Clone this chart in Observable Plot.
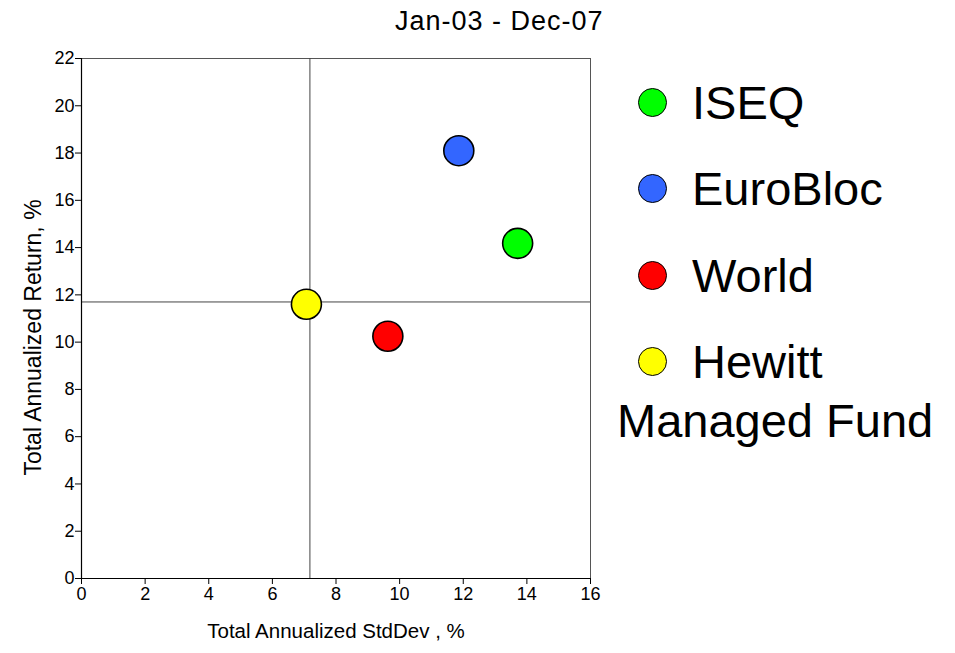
<!DOCTYPE html>
<html>
<head>
<meta charset="utf-8">
<script src="https://cdn.jsdelivr.net/npm/d3@7"></script>
<script src="https://cdn.jsdelivr.net/npm/@observablehq/plot@0.6"></script>
<style>
  html, body { margin: 0; padding: 0; background: white; }
  #wrap { position: relative; width: 955px; height: 653px; font-family: "Liberation Sans", Arial, sans-serif; }
  #title { position: absolute; left: 395px; top: 7px; font-family: "Liberation Sans", Arial, sans-serif; font-size: 27px; line-height: 29px; letter-spacing: 1px; white-space: nowrap; color: #000; }
  #legend { position: absolute; left: 590px; top: 58.75px; width: 365px; }
  .row { height: 86.5px; display: flex; align-items: center; padding-left: 48px; }
  .sw { width: 27px; height: 27px; border-radius: 50%; border: 1.6px solid #000; box-sizing: content-box; flex: none; }
  .lab { font-size: 47px; line-height: 47px; margin-left: 25px; white-space: nowrap; }
  .more { font-size: 47px; line-height: 32px; margin-left: 27px; white-space: nowrap; }
  #chart { position: absolute; left: 0; top: 0; }
</style>
</head>
<body>
<div id="wrap">
  <div id="chart"></div>
  <div id="title"></div>
  <div id="legend"></div>
</div>
<script>
// ---- data ----
const titleText = "Jan-03 - Dec-07";
const xLabel = "Total Annualized StdDev , %";
const yLabel = "Total Annualized Return, %";
const names = ["ISEQ", "EuroBloc", "World", "Hewitt Managed Fund"];
const stdDev = [13.71, 11.86, 9.63, 7.07];
const annReturn = [14.18, 18.1, 10.25, 11.6];
const colors = ["#00ff00", "#3366ff", "#ff0000", "#ffff00"];
const crossX = [7.18];
const crossY = [11.7];
const xDomain = [0, 16];
const yDomain = [0, 22];
const xTicks = [0, 2, 4, 6, 8, 10, 12, 14, 16];
const yTicks = [0, 2, 4, 6, 8, 10, 12, 14, 16, 18, 20, 22];

const points = names.map((n, i) => ({name: n, x: stdDev[i], y: annReturn[i], color: colors[i]}));

document.getElementById("title").textContent = titleText;

const font = "'Liberation Sans', Arial, sans-serif";

const chart = Plot.plot({
  width: 955,
  height: 653,
  marginLeft: 81,
  marginRight: 365,
  marginTop: 58,
  marginBottom: 75,
  style: {fontFamily: font, fontSize: "18px", background: "white", color: "black", overflow: "visible"},
  x: {domain: xDomain, label: null},
  y: {domain: yDomain, label: null},
  marks: [
    Plot.frame({stroke: "#555", strokeWidth: 1}),
    Plot.ruleX(crossX, {stroke: "#444", strokeWidth: 1}),
    Plot.ruleY(crossY, {stroke: "#444", strokeWidth: 1}),
    Plot.ruleX([xDomain[0]], {stroke: "#000", strokeWidth: 1.2}),
    Plot.ruleY([yDomain[0]], {stroke: "#000", strokeWidth: 1.2}),
    Plot.axisX({ticks: xTicks, tickSize: 6, tickPadding: 3, fontSize: 18, label: null, stroke: "#000"}),
    Plot.axisY({ticks: yTicks, tickSize: 6, tickPadding: 1, fontSize: 18, label: null, stroke: "#000"}),
    Plot.text([xLabel], {text: d => d, frameAnchor: "bottom", dy: 59, fontSize: 20.5, fill: "#000"}),
    Plot.text([yLabel], {text: d => d, frameAnchor: "left", textAnchor: "middle", rotate: -90, dx: -48, dy: 19, fontSize: 23, fill: "#000"}),
    Plot.dot(points, {x: "x", y: "y", r: 15, fill: "color", stroke: "#000", strokeWidth: 1.6})
  ]
});
document.getElementById("chart").appendChild(chart);

// legend
const legend = document.getElementById("legend");
points.forEach((p, i) => {
  const words = p.name.split(" ");
  const first = i === points.length - 1 ? words[0] : p.name;
  const rest = i === points.length - 1 ? words.slice(1).join(" ") : "";
  const row = document.createElement("div");
  row.className = "row";
  const sw = document.createElement("div");
  sw.className = "sw";
  sw.style.background = p.color;
  const lab = document.createElement("div");
  lab.className = "lab";
  lab.textContent = first;
  row.appendChild(sw);
  row.appendChild(lab);
  legend.appendChild(row);
  if (rest) {
    const more = document.createElement("div");
    more.className = "more";
    more.textContent = rest;
    legend.appendChild(more);
  }
});
</script>
</body>
</html>
